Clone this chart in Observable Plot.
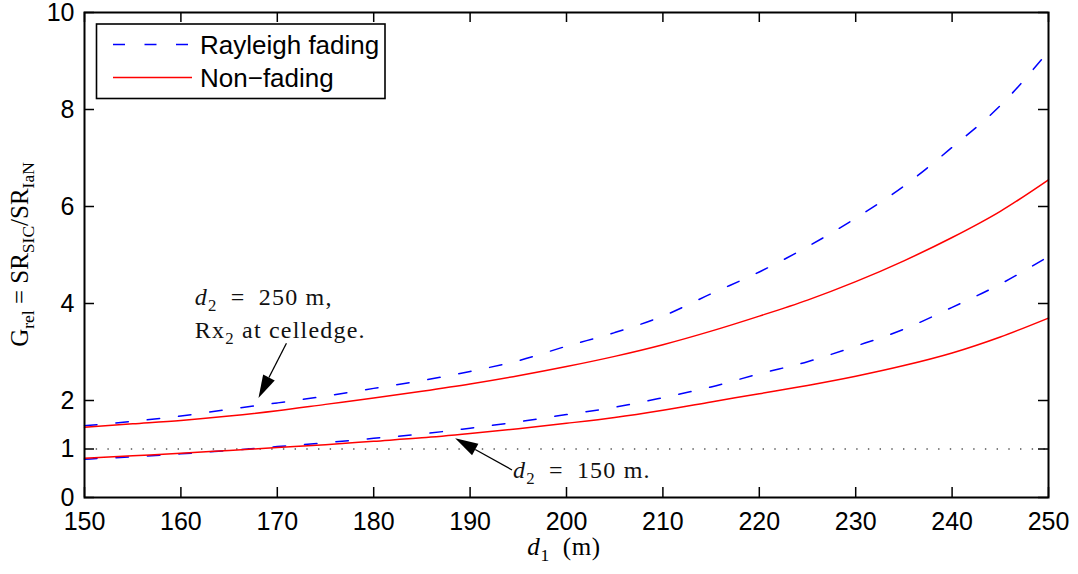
<!DOCTYPE html>
<html>
<head>
<meta charset="utf-8">
<script src="https://cdn.jsdelivr.net/npm/d3@7"></script>
<script src="https://cdn.jsdelivr.net/npm/@observablehq/plot@0.6"></script>
<style>
  html, body { margin: 0; padding: 0; background: white; }
  #chart { width: 1078px; height: 574px; }
</style>
</head>
<body>
<div id="chart"></div>
<script>
// ---- data ----
const d1 = [150,155,160,165,170,175,180,185,190,195,200,205,210,215,220,225,230,235,240,245,250];
const rayleigh250  = [1.48,1.57,1.68,1.82,1.95,2.09,2.25,2.41,2.60,2.82,3.12,3.40,3.74,4.20,4.65,5.17,5.76,6.42,7.22,8.08,9.20];
const nonFading250 = [1.45,1.52,1.59,1.68,1.79,1.92,2.05,2.19,2.34,2.51,2.70,2.91,3.15,3.43,3.74,4.07,4.45,4.88,5.36,5.90,6.55];
const rayleigh150  = [0.79,0.84,0.90,0.97,1.05,1.13,1.22,1.31,1.43,1.56,1.71,1.86,2.06,2.28,2.55,2.80,3.12,3.47,3.92,4.40,4.97];
const nonFading150 = [0.81,0.86,0.91,0.97,1.03,1.09,1.16,1.23,1.32,1.42,1.53,1.65,1.80,1.97,2.14,2.31,2.50,2.72,2.98,3.31,3.70];
const xTicks = [150,160,170,180,190,200,210,220,230,240,250];
const yTicks = [0,1,2,4,6,8,10];
const legendLabels = ["Rayleigh fading", "Non\u2212fading"];
const referenceLevel = [1];

// ---- tables ----
const toRows = (vals, series) => d1.map((x, i) => ({x, y: vals[i], series}));
const rayleighRows = [...toRows(rayleigh250, "r250"), ...toRows(rayleigh150, "r150")];
const nonFadingRows = [...toRows(nonFading250, "n250"), ...toRows(nonFading150, "n150")];

const BLUE = "#0000ff", RED = "#ff0000";
const SANS = "'Liberation Sans', Arial, Helvetica, sans-serif";
const SERIF = "'Liberation Serif', 'Times New Roman', serif";
const innerH = 574 - 12 - 77;
const innerW = 1078 - 84 - 30;

const plot = Plot.plot({
  width: 1078,
  height: 574,
  marginLeft: 84,
  marginRight: 30,
  marginTop: 12,
  marginBottom: 77,
  x: {domain: [150, 250]},
  y: {domain: [0, 10]},
  style: {fontFamily: SANS, fontSize: "25px", background: "white", color: "black", overflow: "visible"},
  marks: [
    Plot.ruleY(referenceLevel, {stroke: "#555", strokeWidth: 1.4, strokeDasharray: "1.4,10.3"}),
    Plot.line(rayleighRows, {x: "x", y: "y", z: "series", stroke: BLUE, strokeWidth: 1.5, strokeDasharray: "12.5,19", curve: "monotone-x"}),
    Plot.line(nonFadingRows, {x: "x", y: "y", z: "series", stroke: RED, strokeWidth: 1.5, curve: "monotone-x"}),
    // inward ticks on all four sides
    Plot.tickX(xTicks, {x: d => d, insetTop: innerH - 10, stroke: "black", strokeWidth: 1.5}),
    Plot.tickX(xTicks, {x: d => d, insetBottom: innerH - 10, stroke: "black", strokeWidth: 1.5}),
    Plot.tickY(yTicks, {y: d => d, insetRight: innerW - 10, stroke: "black", strokeWidth: 1.5}),
    Plot.tickY(yTicks, {y: d => d, insetLeft: innerW - 10, stroke: "black", strokeWidth: 1.5}),
    Plot.frame({stroke: "black", strokeWidth: 2}),
    Plot.axisX({ticks: xTicks, tickSize: 0, tickPadding: 15, label: null, fontSize: 25, fontFamily: SANS}),
    Plot.axisY({ticks: yTicks, tickSize: 0, tickPadding: 10, label: null, fontSize: 25, fontFamily: SANS})
  ]
});

document.getElementById("chart").appendChild(plot);

const sx = plot.scale("x"), sy = plot.scale("y");
const X = v => sx.apply(v), Y = v => sy.apply(v);
const svg = d3.select(plot);

function mathText(textSel, parts, fs) {
  let shifted = false;
  const shift = fs * 0.24;
  for (const [s, k] of parts) {
    const t = textSel.append("tspan").text(s);
    if (k === "s") {
      t.attr("font-size", fs * 0.7);
      if (!shifted) { t.attr("dy", shift); shifted = true; }
    } else {
      t.attr("font-size", fs);
      if (shifted) { t.attr("dy", -shift); shifted = false; }
      if (k === "i") t.attr("font-style", "italic");
    }
  }
}

// axis labels
const fsLab = 25;
const xl = svg.append("text")
  .attr("x", (X(150) + X(250)) / 2 - 2).attr("y", 555)
  .attr("text-anchor", "middle").attr("font-family", SERIF).attr("font-size", fsLab).attr("letter-spacing", 0.6);
mathText(xl, [["d", "i"], ["1", "s"], ["\u2002(m)", "r"]], fsLab);

const yl = svg.append("text")
  .attr("transform", `translate(28,${(Y(0) + Y(10)) / 2}) rotate(-90)`)
  .attr("text-anchor", "middle").attr("font-family", SERIF).attr("font-size", fsLab);
mathText(yl, [["G", "r"], ["rel", "s"], [" = SR", "r"], ["SIC", "s"], ["/SR", "r"], ["IaN", "s"]], fsLab);

// legend
const lg = svg.append("g");
lg.append("rect").attr("x", 96.5).attr("y", 24).attr("width", 288.5).attr("height", 74.5)
  .attr("fill", "white").attr("stroke", "black").attr("stroke-width", 1.6);
const rowsY = [44.5, 77.5];
const legendStyles = [{stroke: BLUE, dash: "12,19.5"}, {stroke: RED, dash: null}];
legendLabels.forEach((lab, i) => {
  lg.append("line").attr("x1", 113).attr("x2", 192).attr("y1", rowsY[i]).attr("y2", rowsY[i])
    .attr("stroke", legendStyles[i].stroke).attr("stroke-width", 1.5)
    .attr("stroke-dasharray", legendStyles[i].dash);
  lg.append("text").attr("x", 200).attr("y", rowsY[i]).attr("dy", "0.36em")
    .attr("text-anchor", "start")
    .attr("font-family", SANS).attr("font-size", 26).attr("fill", "black").text(lab);
});

// annotations
const fsAnn = 24;
function annText(x, y, parts) {
  const t = svg.append("text").attr("x", X(x)).attr("y", Y(y))
    .attr("text-anchor", "start").attr("fill", "#111")
    .attr("font-family", SERIF).attr("font-size", fsAnn).attr("letter-spacing", 1.2);
  mathText(t, parts, fsAnn);
}
annText(161.5, 3.96, [["d", "i"], ["2", "s"], ["\u2002=\u2002250 m,", "r"]]);
annText(161.5, 3.28, [["Rx", "r"], ["2", "s"], [" at celledge.", "r"]]);
annText(194.5, 0.39, [["d", "i"], ["2", "s"], ["\u2002=\u2002150 m.", "r"]]);

function arrow(x0, y0, x1, y1) {
  const px0 = X(x0), py0 = Y(y0), px1 = X(x1), py1 = Y(y1);
  const dx = px1 - px0, dy = py1 - py0, L = Math.hypot(dx, dy);
  const ux = dx / L, uy = dy / L;
  const hl = 23, hw = 6.5;
  const bx = px1 - ux * hl, by = py1 - uy * hl;
  svg.append("line").attr("x1", px0).attr("y1", py0).attr("x2", bx).attr("y2", by)
    .attr("stroke", "black").attr("stroke-width", 1.3);
  svg.append("path")
    .attr("d", `M${px1},${py1}L${bx - uy * hw},${by + ux * hw}L${bx + uy * hw},${by - ux * hw}Z`)
    .attr("fill", "black");
}
arrow(171.0, 3.17, 168.1, 2.04);
arrow(194.4, 0.557, 188.5, 1.21);
</script>
</body>
</html>
